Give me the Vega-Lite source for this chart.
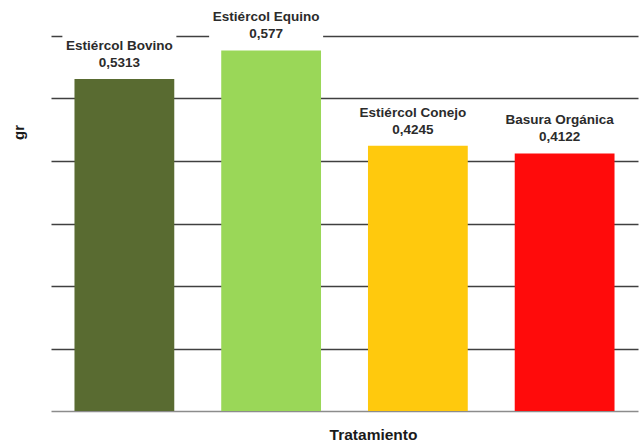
{
  "$schema": "https://vega.github.io/schema/vega-lite/v6.json",
  "width": 587,
  "height": 375,
  "autosize": {"type": "none"},
  "padding": {"left": 51, "top": 36, "right": 1, "bottom": 32},
  "background": "white",
  "config": {"view": {"stroke": null}, "font": "Liberation Sans"},
  "data": {
    "values": [
      {"Tratamiento": "Estiércol Bovino", "gr": 0.5313, "etiqueta": "0,5313"},
      {"Tratamiento": "Estiércol Equino", "gr": 0.577, "etiqueta": "0,577"},
      {"Tratamiento": "Estiércol Conejo", "gr": 0.4245, "etiqueta": "0,4245"},
      {"Tratamiento": "Basura Orgánica", "gr": 0.4122, "etiqueta": "0,4122"}
    ]
  },
  "encoding": {
    "x": {
      "field": "Tratamiento",
      "type": "nominal",
      "sort": null,
      "scale": {"paddingInner": 0.32, "paddingOuter": 0.16},
      "axis": {
        "labels": false,
        "ticks": false,
        "domainColor": "#8c8c8c",
        "domainWidth": 1.5,
        "title": "Tratamiento",
        "titleFont": "Liberation Sans",
        "titleFontSize": 15.5,
        "titleFontWeight": "bold",
        "titleColor": "#1a1a1a",
        "titleAlign": "center",
        "titleBaseline": "alphabetic",
        "titleX": 322,
        "titleY": 28
      }
    },
    "y": {
      "field": "gr",
      "type": "quantitative",
      "scale": {"domain": [0, 0.6], "nice": false},
      "axis": {
        "labels": false,
        "ticks": false,
        "domain": false,
        "values": [0.1, 0.2, 0.3, 0.4, 0.5, 0.6],
        "gridColor": "#404040",
        "gridWidth": 1.5,
        "title": "gr",
        "titleFont": "Liberation Sans",
        "titleFontSize": 15,
        "titleFontWeight": "bold",
        "titleColor": "#1a1a1a",
        "titleAngle": -90,
        "titleAlign": "center",
        "titleBaseline": "middle",
        "titleX": -33,
        "titleY": 96
      }
    }
  },
  "layer": [
    {
      "mark": {"type": "bar"},
      "encoding": {
        "color": {
          "field": "Tratamiento",
          "type": "nominal",
          "scale": {
            "domain": ["Estiércol Bovino", "Estiércol Equino", "Estiércol Conejo", "Basura Orgánica"],
            "range": ["#596B31", "#9AD758", "#FFC90D", "#FF0B0B"]
          },
          "legend": null
        }
      }
    },
    {
      "mark": {"type": "bar", "color": "white", "width": 114, "xOffset": -5, "yOffset": -7, "y2Offset": -45},
      "encoding": {"y2": {"field": "gr"}}
    },
    {
      "mark": {"type": "text", "dx": -5, "dy": -12, "baseline": "alphabetic", "fontSize": 13.5, "fontWeight": "bold", "color": "#2b2b2b"},
      "encoding": {"text": {"field": "etiqueta"}}
    },
    {
      "mark": {"type": "text", "dx": -5, "dy": -29, "baseline": "alphabetic", "fontSize": 13.5, "fontWeight": "bold", "color": "#2b2b2b"},
      "encoding": {"text": {"field": "Tratamiento"}}
    }
  ]
}
